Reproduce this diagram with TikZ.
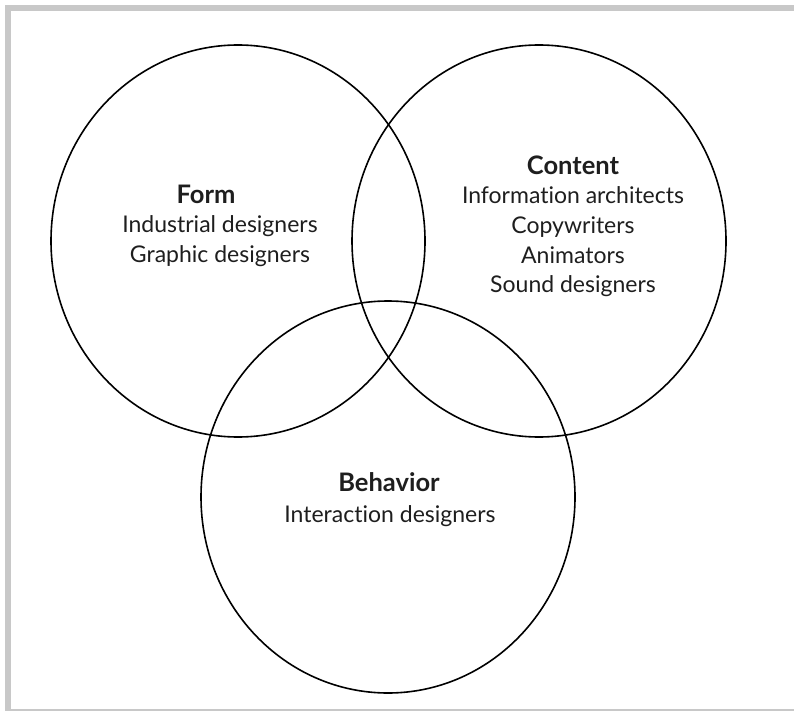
\documentclass[tikz,border=0pt]{standalone}
\usepackage{fontspec}
\setmainfont{Lato}[Ligatures=NoCommon]
\definecolor{framegray}{HTML}{C8C8C8}
\definecolor{txt}{HTML}{1E1E1E}
\begin{document}
\begin{tikzpicture}[x=1pt,y=-1pt,
  ring/.style={draw=black,line width=1.6pt},
  title/.style={font=\fontsize{25.5}{30}\selectfont\bfseries,text=txt,inner sep=0pt,anchor=base},
  body/.style={font=\fontsize{23}{30}\selectfont,text=txt,inner sep=0pt,anchor=base}]
\useasboundingbox (0,0) rectangle (794,711);
\begin{scope}
\clip (0,0) rectangle (794,711);
\draw[framegray,line width=6pt] (8,8.5) rectangle (797,711.5);
\end{scope}
\draw[ring] (238,241) ellipse [x radius=187, y radius=196];
\draw[ring] (539,241) ellipse [x radius=187, y radius=196];
\draw[ring] (388,497) ellipse [x radius=187, y radius=196];
\node[title] (formt) at (206,204) {Form};
\node[body] (form1) at (220,233) {Industrial designers};
\node[body] (form2) at (220,262) {Graphic designers};
\node[title] (contt) at (573,175) {Content};
\node[body] (cont1) at (573,204) {Information architects};
\node[body] (cont2) at (573,233.5) {Copywriters};
\node[body] (cont3) at (573,263) {Animators};
\node[body] (cont4) at (573,292) {Sound designers};
\node[title] (beht) at (389,491) {Behavior};
\node[body] (behb) at (390,522) {Interaction designers};
\end{tikzpicture}
\end{document}
